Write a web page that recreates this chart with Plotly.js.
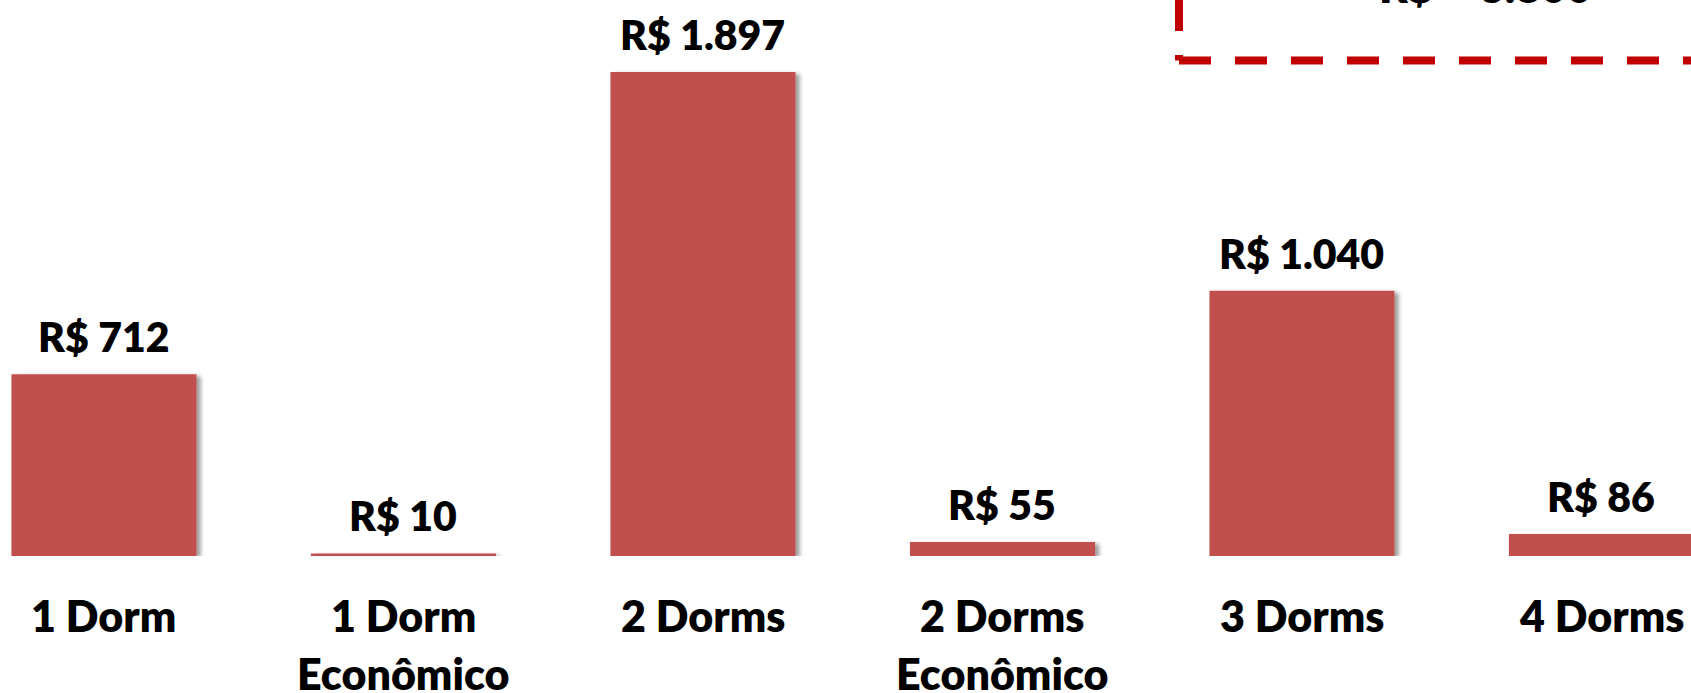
<!DOCTYPE html>
<html>
<head>
<meta charset="utf-8">
<script src="https://cdn.plot.ly/plotly-3.0.1.min.js"></script>
<style>
  html, body { margin: 0; padding: 0; background: #ffffff; }
  #chart { width: 1691px; height: 693px; }
</style>
</head>
<body>
<div id="chart"></div>
<script>
// ---- data ----
const categories = ["1 Dorm", "1 Dorm<br>Econômico", "2 Dorms", "2 Dorms<br>Econômico", "3 Dorms", "4 Dorms"];
const values = [712, 10, 1897, 55, 1040, 86];
const valueLabels = ["R$ 712", "R$ 10", "R$ 1.897", "R$ 55", "R$ 1.040", "R$ 86"];
const totalLabel = "R$ = 3.800";

// ---- style ----
const barColor = "#C0504D";
const boxColor = "#C00000";
const fontFamily = "Lato, 'Open Sans', sans-serif";
const valueFont = { family: fontFamily, size: 41, color: "#000000", weight: 800 };
const catFont = { family: fontFamily, size: 43, color: "#000000", weight: 800 };

const annotations = [];
values.forEach((v, i) => {
  annotations.push({
    x: i, y: v, xref: "x", yref: "y",
    text: valueLabels[i],
    showarrow: false, yanchor: "bottom", yshift: 11,
    font: valueFont
  });
});
categories.forEach((c, i) => {
  c.split("<br>").forEach((line, j) => {
    annotations.push({
      x: i, y: 0, xref: "x", yref: "paper",
      text: line,
      showarrow: false, yanchor: "top", yshift: -32 - 58 * j,
      font: catFont
    });
  });
});
annotations.push({
  x: 1485 / 1691, y: (556 - 14) / 556, xref: "paper", yref: "paper",
  text: totalLabel,
  showarrow: false, yanchor: "bottom", xanchor: "center",
  font: { family: fontFamily, size: 44, color: "#000000", weight: 800 }
});

const boxX = 1179 / 1691;
const boxBottom = (556 - 60.5) / 556;
const shapes = [
  { type: "line", xref: "paper", yref: "paper", x0: boxX, x1: 1.1, y0: boxBottom, y1: boxBottom,
    line: { color: boxColor, width: 8, dash: "32px,24px" } },
  { type: "line", xref: "paper", yref: "paper", x0: boxX, x1: boxX, y0: (556 + 1) / 556, y1: boxBottom,
    line: { color: boxColor, width: 8, dash: "32px,24px" } }
];

const trace = {
  type: "bar",
  x: categories,
  y: values,
  marker: { color: barColor, line: { width: 0 } },
  hoverinfo: "none"
};

const layout = {
  width: 1691, height: 693,
  margin: { l: 0, r: 0, t: 0, b: 137, pad: 0 },
  paper_bgcolor: "#ffffff", plot_bgcolor: "#ffffff",
  showlegend: false,
  bargap: 0.382,
  xaxis: { type: "category", range: [-0.3472, 5.2989], showticklabels: false, showgrid: false,
           zeroline: false, showline: false, ticks: "" },
  yaxis: { range: [0, 2179.2], visible: false, showgrid: false, zeroline: false },
  annotations: annotations,
  shapes: shapes
};

Plotly.newPlot("chart", [trace], layout, { staticPlot: true, displayModeBar: false }).then(gd => {
  const svgNS = "http://www.w3.org/2000/svg";
  const svg = gd.querySelector("svg.main-svg");
  let defs = svg.querySelector("defs");
  if (!defs) { defs = document.createElementNS(svgNS, "defs"); svg.insertBefore(defs, svg.firstChild); }
  const f = document.createElementNS(svgNS, "filter");
  f.setAttribute("id", "barShadow");
  f.setAttribute("x", "-20%"); f.setAttribute("y", "-20%");
  f.setAttribute("width", "140%"); f.setAttribute("height", "200%");
  const ds = document.createElementNS(svgNS, "feDropShadow");
  ds.setAttribute("dx", "4"); ds.setAttribute("dy", "2");
  ds.setAttribute("stdDeviation", "2");
  ds.setAttribute("flood-color", "#000000");
  ds.setAttribute("flood-opacity", "0.4");
  f.appendChild(ds);
  defs.appendChild(f);
  gd.querySelectorAll(".bars .point path").forEach(p => p.setAttribute("filter", "url(#barShadow)"));
});
</script>
</body>
</html>
